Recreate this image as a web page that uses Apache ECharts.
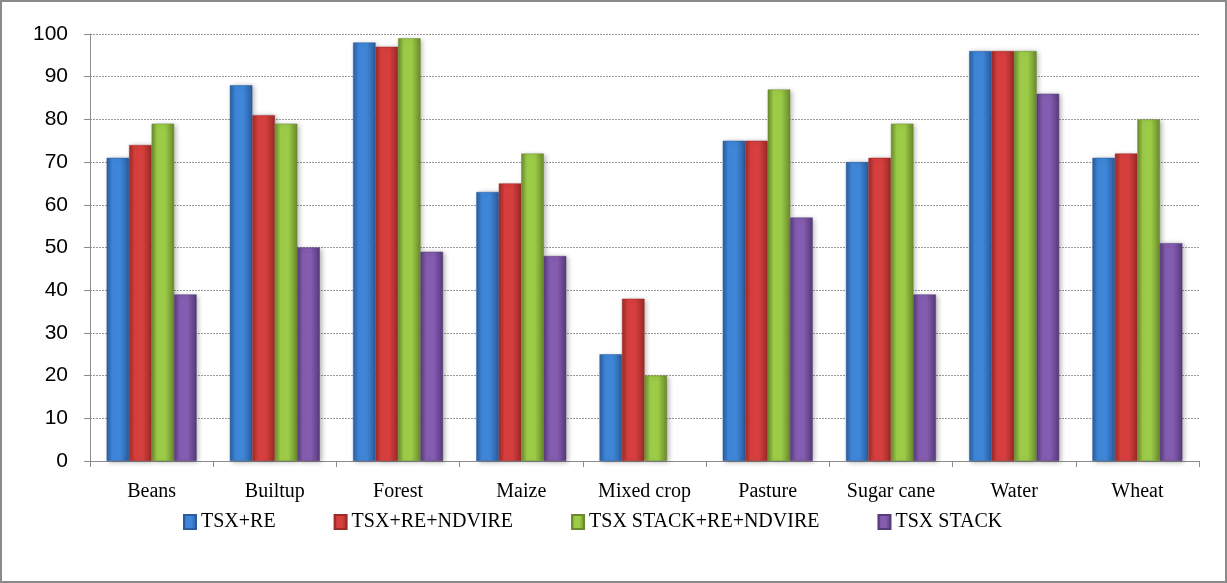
<!DOCTYPE html>
<html><head><meta charset="utf-8">
<script src="https://cdn.jsdelivr.net/npm/echarts@6/dist/echarts.min.js"></script>
<style>
html,body{margin:0;padding:0;background:#fff;}
#frame{position:absolute;left:0;top:0;width:1227px;height:583px;box-sizing:border-box;border:2px solid #8a8a8a;}
#chart{position:absolute;left:0;top:0;width:1227px;height:583px;}
</style></head>
<body>
<div id="chart"></div>
<div id="frame"></div>
<script>
const categories = ["Beans","Builtup","Forest","Maize","Mixed crop","Pasture","Sugar cane","Water","Wheat"];
const seriesNames = ["TSX+RE","TSX+RE+NDVIRE","TSX STACK+RE+NDVIRE","TSX STACK"];
const tsxRe = [71, 88, 98, 63, 25, 75, 70, 96, 71];
const tsxReNdvire = [74, 81, 97, 65, 38, 75, 71, 96, 72];
const stackReNdvire = [79, 79, 99, 72, 20, 87, 79, 96, 80];
const tsxStack = [39, 50, 49, 48, null, 57, 39, 86, 51];
const yTicks = {min: 0, max: 100, interval: 10};

const palette = [
  {edge:'#2a5d9e', mid:'#3f86d8', light:'#5ea0ea'},
  {edge:'#9c2a28', mid:'#d63f3d', light:'#e86462'},
  {edge:'#6a8a2c', mid:'#9ccb48', light:'#b6dc6a'},
  {edge:'#563a7a', mid:'#845cb0', light:'#9f7cc8'}
];
function grad(p){
  return new echarts.graphic.LinearGradient(0,0,1,0,[
    {offset:0,color:p.edge},{offset:0.25,color:p.mid},{offset:0.6,color:p.mid},{offset:1,color:p.edge}
  ]);
}
const serifFont = 'Liberation Serif, DejaVu Serif, serif';
const dataSets = [tsxRe, tsxReNdvire, stackReNdvire, tsxStack];
const chart = echarts.init(document.getElementById('chart'));
chart.setOption({
  animation:false,
  backgroundColor:'#fff',
  grid:{left:90,right:28,top:34,bottom:122,containLabel:false},
  legend:{
    bottom:46,left:178,itemWidth:12,itemHeight:14,itemGap:58,
    icon:'rect',
    textStyle:{fontFamily:serifFont,fontSize:20,color:'#000'},
    data:seriesNames.map((n,i)=>({name:n,itemStyle:{color:grad(palette[i])}}))
  },
  xAxis:{
    type:'category',data:categories,
    axisLine:{lineStyle:{color:'#8c8c8c',width:1}},
    axisTick:{show:true,interval:0,length:6,lineStyle:{color:'#8c8c8c'}},
    axisLabel:{interval:0,fontFamily:serifFont,fontSize:20,color:'#000',margin:21}
  },
  yAxis:{
    type:'value',min:yTicks.min,max:yTicks.max,interval:yTicks.interval,
    axisLine:{show:true,lineStyle:{color:'#8c8c8c'}},
    axisTick:{show:true,length:6,lineStyle:{color:'#8c8c8c'}},
    axisLabel:{fontFamily:'Liberation Sans, Arial, sans-serif',fontSize:21,color:'#000',margin:22},
    splitLine:{show:true,lineStyle:{color:'#9a9a9a',type:[2,1],width:1}}
  },
  series:dataSets.map((d,i)=>({
    name:seriesNames[i],type:'bar',data:d,
    barGap:'0%',barCategoryGap:'27%',
    itemStyle:{color:grad(palette[i]),borderColor:palette[i].edge,borderWidth:0.5,
      shadowColor:'rgba(0,0,0,0.3)',shadowBlur:5,shadowOffsetX:2,shadowOffsetY:1}
  }))
});
</script>
</body></html>
